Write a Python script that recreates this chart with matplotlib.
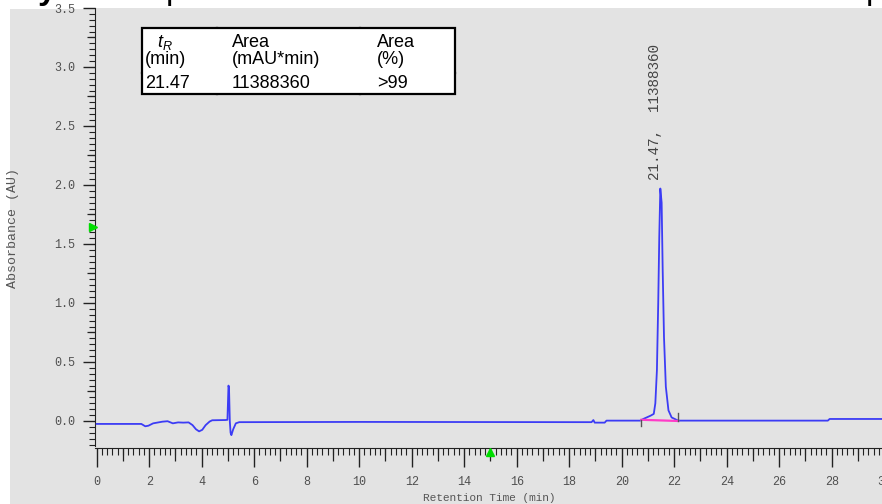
import matplotlib.pyplot as plt
from matplotlib.patches import Rectangle
from matplotlib.lines import Line2D
from matplotlib.ticker import MultipleLocator, FixedLocator, NullFormatter

plt.rcParams['mathtext.fontset'] = 'custom'
plt.rcParams['mathtext.rm'] = 'Liberation Sans'
plt.rcParams['mathtext.it'] = 'Liberation Sans:italic'

# chromatogram readings (min, AU)
time = [0.0, 1.7, 1.85, 1.97, 2.15, 2.35, 2.5, 2.7, 2.9, 3.1, 3.3, 3.5, 3.65, 3.78,
        3.9, 4.02, 4.15, 4.3, 4.4, 4.9, 4.98, 5.02, 5.04, 5.07, 5.1, 5.13, 5.2, 5.3,
        5.43, 10.0, 18.85, 18.92, 18.97, 19.35, 19.42, 20.7, 20.85, 21.1, 21.22, 21.28,
        21.34, 21.39, 21.43, 21.47, 21.52, 21.56, 21.61, 21.68, 21.78, 21.9, 22.15,
        27.85, 27.92, 30.2]
absorbance = [-0.025, -0.025, -0.045, -0.04, -0.02, -0.012, -0.006, -0.002, -0.02, -0.012,
              -0.014, -0.012, -0.035, -0.07, -0.088, -0.075, -0.035, -0.005, 0.006, 0.008,
              0.01, 0.30, 0.28, 0.0, -0.10, -0.12, -0.07, -0.02, -0.01, -0.008, -0.01,
              0.008, -0.014, -0.014, 0.003, 0.003, 0.02, 0.045, 0.06, 0.15, 0.43, 1.0,
              1.56, 1.97, 1.85, 1.28, 0.71, 0.29, 0.09, 0.03, 0.003, 0.003, 0.017, 0.017]

# integration baseline of the main peak
base_time = [20.75, 22.15]
base_abs = [0.01, 0.0]

peak_rt = 21.47
peak_area = 11388360
area_pct = '>99'

table_header = [['$t_R$', '(min)'], ['Area', '(mAU*min)'], ['Area', '(%)']]
table_row = [f'{peak_rt:.2f}', f'{peak_area}', area_pct]

W, H = 882, 504
bg = '#e3e3e3'
mono = 'Liberation Mono'
tick_col = '#505050'


def px(x, y):
    return x / W, 1 - y / H


fig = plt.figure(figsize=(W / 100, H / 100), dpi=100, facecolor='white')
fig.patches.append(Rectangle(px(10, 504), 1, (H - 9) / H, transform=fig.transFigure,
                             facecolor=bg, edgecolor='none', zorder=-5))

# cropped title fragments at the very top (only descenders show)
for x, s, wt in [(38, 'y', 'bold'), (166, 'p', 'normal'), (866, 'p', 'normal')]:
    fig.text(*px(x, -1), s, fontsize=24, fontweight=wt, family='Liberation Sans',
             va='baseline', color='black')

left, right, top, bottom = 95, 889.5, 8, 448
ax = fig.add_axes([left / W, (H - bottom) / H, (right - left) / W, (bottom - top) / H])
ax.set_facecolor(bg)
ax.set_xlim(-0.065, 30.2)
ax.set_ylim(-0.229, 3.5)

ax.plot(time, absorbance, color='#3c3cf5', lw=1.3, zorder=3)
ax.plot(base_time, base_abs, color='#ff3cc8', lw=1.6, zorder=4)
ax.plot([base_time[0]] * 2, [-0.045, 0.01], color='#555555', lw=1, zorder=4)
ax.plot([base_time[1]] * 2, [0.0, 0.065], color='#555555', lw=1, zorder=4)

ax.text(21.28, 2.04, f'{peak_rt},  {peak_area}', rotation=90, ha='center', va='bottom',
        family=mono, fontsize=10.3, color='#444444')

# green markers on the axes
ax.plot([-0.15], [1.64], marker='>', color='#00dd00', ms=6, clip_on=False, zorder=6)
ax.plot([15.0], [-0.265], marker='^', color='#00dd00', ms=6, clip_on=False, zorder=6)

for s in ['top', 'right']:
    ax.spines[s].set_visible(False)
ax.spines['left'].set_bounds(-0.21, 3.5)
ax.spines['left'].set_color('#222222')
ax.spines['bottom'].set_color('#222222')

ax.xaxis.set_major_locator(MultipleLocator(2))
ax.xaxis.set_minor_locator(MultipleLocator(0.2))
ax.yaxis.set_major_locator(MultipleLocator(0.5))
ax.yaxis.set_minor_locator(MultipleLocator(0.05))
ax.xaxis.set_major_formatter(lambda v, p: f'{v:.0f}')
ax.yaxis.set_major_formatter(lambda v, p: f'{v:.1f}')
ax.tick_params(axis='x', which='major', length=14, width=1, pad=6, labelsize=8.5,
               labelcolor=tick_col, color='#222222')
ax.tick_params(axis='x', which='minor', length=5, width=0.8, color='#222222')
ax.tick_params(axis='y', which='major', length=9, width=1, pad=5, labelsize=8.5,
               labelcolor=tick_col, color='#222222')
ax.tick_params(axis='y', which='minor', length=4, width=0.8, color='#222222')
for lab in ax.get_xticklabels() + ax.get_yticklabels():
    lab.set_family(mono)

# intermediate tick marks
secx = ax.secondary_xaxis('bottom')
secx.xaxis.set_major_locator(FixedLocator([i + 1 for i in range(0, 30, 2)]))
secx.xaxis.set_major_formatter(NullFormatter())
secx.tick_params(length=9, width=0.9, color='#222222')
secx.spines['bottom'].set_visible(False)
secy = ax.secondary_yaxis('left')
secy.yaxis.set_major_locator(FixedLocator([0.25 + 0.5 * i for i in range(-1, 7)]))
secy.yaxis.set_major_formatter(NullFormatter())
secy.tick_params(length=6, width=0.9, color='#222222')
secy.spines['left'].set_visible(False)

fig.text(*px(13, 228), 'Absorbance (AU)', rotation=90, ha='center', va='center',
         family=mono, fontsize=9.5, color='#555555')
fig.text(*px(489, 498), 'Retention Time (min)', ha='center', va='center',
         family=mono, fontsize=8, color='#555555')

# result table
tx0, tx1, tx2, tx3 = 142, 217, 360, 455
ty0, ty1, ty2 = 28, 73, 94
fig.patches.append(Rectangle(px(tx0, ty2), (tx3 - tx0) / W, (ty2 - ty0) / H,
                             transform=fig.transFigure, facecolor='white',
                             edgecolor='black', lw=1.6, zorder=5))
for x in (tx1, tx2):
    fig.add_artist(Line2D([x / W] * 2, [1 - ty0 / H, 1 - ty2 / H], color='black', lw=1.6))
fig.add_artist(Line2D([tx0 / W, tx3 / W], [1 - ty1 / H] * 2, color='black', lw=1.6))

col_x = [145, 232, 377]
tfont = dict(family='Liberation Sans', fontsize=13, va='baseline', color='black', zorder=6)
for i, (l1, l2) in enumerate(table_header):
    x1 = col_x[i] + (12 if i == 0 else 0)
    fig.text(*px(x1, 47), l1, **tfont)
    fig.text(*px(col_x[i], 64), l2, **tfont)
    fig.text(*px(col_x[i], 88), table_row[i], **tfont)

fig.savefig('out.png', dpi=100, facecolor='white')
